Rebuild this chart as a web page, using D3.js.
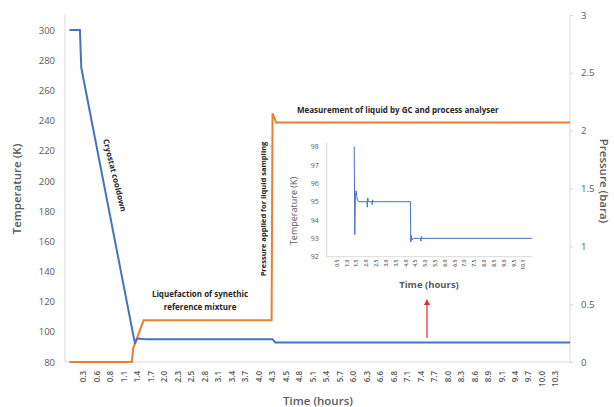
<!DOCTYPE html>
<html>
<head>
<meta charset="utf-8">
<script src="https://cdn.jsdelivr.net/npm/d3@7"></script>
<style>
  body { margin: 0; background: #fff; }
  text { font-family: "Open Sans", sans-serif; }
</style>
</head>
<body>
<div id="chart"></div>
<script>
// main series: [hours, value]
const tempSeries = [
  [0, 300], [0.22, 300], [0.25, 275], [1.387, 92], [1.41, 94.5], [1.45, 95.6],
  [1.55, 95.2], [1.7, 95], [4.3, 95], [4.36, 93], [10.6, 93]
];
const pressSeries = [
  [0, 0], [1.32, 0], [1.35, 0.12], [1.57, 0.36], [4.28, 0.36], [4.30, 2.15],
  [4.38, 2.07], [10.6, 2.07]
];
// inset series (temperature zoom)
const insetSeries = [
  [1.40, 98], [1.43, 93.2], [1.46, 95.3], [1.5, 95.6], [1.55, 95.15], [1.62, 95.0],
  [2.05, 95], [2.07, 94.7], [2.09, 95.2], [2.12, 95], [2.3, 95], [2.32, 94.85],
  [2.34, 95.1], [2.36, 95], [4.26, 95], [4.28, 92.8], [4.31, 93.15], [4.34, 92.9],
  [4.4, 93], [4.78, 93], [4.8, 92.85], [4.82, 93.1], [4.85, 93], [10.45, 93]
];

const tickLabels = ["0.3","0.6","0.8","1.1","1.4","1.7","2.0","2.3","2.5","2.8","3.1","3.4",
  "3.7","4.0","4.3","4.5","4.8","5.1","5.4","5.7","6.0","6.3","6.6","6.8","7.1","7.4","7.7",
  "8.0","8.3","8.6","8.9","9.1","9.4","9.7","10.0","10.3"];
const tempTicks = [80, 100, 120, 140, 160, 180, 200, 220, 240, 260, 280, 300];
const pressTicks = [0, 0.5, 1, 1.5, 2, 2.5, 3];
const insetTickLabels = ["0.5","1.0","1.5","2.0","2.5","3.0","3.5","4.0","4.5","5.0",
  "5.5","6.0","6.5","7.0","7.5","8.0","8.5","9.0","9.5","10.1"];
const insetTempTicks = [92, 93, 94, 95, 96, 97, 98];

const W = 614, H = 407;
const L = 65, R = 570, T = 15, B = 362;
const grey = "#595959", axisCol = "#d9d9d9";
const blue = "#4472c4", orange = "#ed7d31";

const svg = d3.select("#chart").append("svg")
  .attr("width", W).attr("height", H);

const x = d3.scaleLinear().domain([0, 10.6]).range([L + 4.5, R]);
const yT = d3.scaleLinear().domain([80, 310]).range([B, T]);
const yP = d3.scaleLinear().domain([0, 3]).range([B, T]);
const xLab = d3.scalePoint().domain(tickLabels).range([x(2 / 7), x(72 / 7)]);

// axis lines
svg.append("line").attr("x1", L).attr("x2", L).attr("y1", T).attr("y2", B)
  .attr("stroke", axisCol);
svg.append("line").attr("x1", R).attr("x2", R).attr("y1", T).attr("y2", B)
  .attr("stroke", axisCol);
svg.append("line").attr("x1", L).attr("x2", R).attr("y1", B).attr("y2", B)
  .attr("stroke", axisCol);

// left axis
const gl = svg.append("g").attr("transform", `translate(${L},0)`)
  .call(d3.axisLeft(yT).tickValues(tempTicks).tickSize(0).tickPadding(10));
gl.select(".domain").remove();
gl.selectAll("text").attr("fill", grey).style("font-size", "9.5px");

// right axis
const gr = svg.append("g").attr("transform", `translate(${R},0)`)
  .call(d3.axisRight(yP).tickValues(pressTicks).tickFormat(d3.format("")).tickSize(3).tickPadding(8));
gr.select(".domain").remove();
gr.selectAll("line").attr("stroke", axisCol);
gr.selectAll("text").attr("fill", grey).style("font-size", "9.5px");

// bottom axis
const gb = svg.append("g").attr("transform", `translate(0,${B})`)
  .call(d3.axisBottom(xLab).tickSize(0));
gb.select(".domain").remove();
gb.selectAll("text")
  .attr("fill", grey).style("font-size", "8px").style("font-weight", "600")
  .attr("transform", "rotate(-90)")
  .attr("text-anchor", "end")
  .attr("x", -9).attr("y", 0).attr("dy", "0.35em");

// axis titles
svg.append("text").attr("transform", "translate(21,189) rotate(-90)")
  .attr("text-anchor", "middle").attr("fill", grey)
  .style("font-size", "11.5px").style("font-weight", "600").text("Temperature (K)");
svg.append("text").attr("transform", "translate(600,181) rotate(90)")
  .attr("text-anchor", "middle").attr("fill", grey)
  .style("font-size", "11.5px").style("font-weight", "600").text("Pressure (bara)");
svg.append("text").attr("x", 318).attr("y", 405)
  .attr("text-anchor", "middle").attr("fill", grey)
  .style("font-size", "11.5px").style("font-weight", "600").text("Time (hours)");

// lines
const lineT = d3.line().x(d => x(d[0])).y(d => yT(d[1]));
const lineP = d3.line().x(d => x(d[0])).y(d => yP(d[1]));
svg.append("path").datum(pressSeries).attr("d", lineP)
  .attr("fill", "none").attr("stroke", orange).attr("stroke-width", 2);
svg.append("path").datum(tempSeries).attr("d", lineT)
  .attr("fill", "none").attr("stroke", blue).attr("stroke-width", 2);

// annotations
const ann = "#262626";
svg.append("text").attr("transform", "translate(112,176) rotate(76)")
  .attr("text-anchor", "middle").attr("fill", ann)
  .style("font-size", "8px").style("font-weight", "700").text("Cryostat cooldown");
svg.append("text").attr("x", 200).attr("y", 297)
  .attr("text-anchor", "middle").attr("fill", ann)
  .style("font-size", "8px").style("font-weight", "700").text("Liquefaction of synethic");
svg.append("text").attr("x", 200).attr("y", 310)
  .attr("text-anchor", "middle").attr("fill", ann)
  .style("font-size", "8px").style("font-weight", "700").text("reference mixture");
svg.append("text").attr("transform", "translate(263,209) rotate(-90)")
  .attr("text-anchor", "middle").attr("dy", "0.35em").attr("fill", ann)
  .style("font-size", "7.5px").style("font-weight", "700")
  .text("Pressure applied for liquid sampling");
svg.append("text").attr("x", 297).attr("y", 113)
  .attr("fill", ann)
  .style("font-size", "8px").style("font-weight", "700")
  .text("Measurement of liquid by GC and process analyser");

// inset chart
const iL = 326.7, iR = 532, iT = 146.7, iB = 256.7;
const ix = d3.scaleLinear().domain([0, 10.45]).range([iL, iR]);
const iy = d3.scaleLinear().domain([92, 98]).range([iB, iT]);
const ixLab = d3.scalePoint().domain(insetTickLabels).range([ix(0.5), ix(10.0)]);

svg.append("line").attr("x1", iL).attr("x2", iL).attr("y1", iT - 4).attr("y2", iB)
  .attr("stroke", axisCol);
svg.append("line").attr("x1", iL).attr("x2", iR).attr("y1", iB).attr("y2", iB)
  .attr("stroke", axisCol);

const il = svg.append("g").attr("transform", `translate(${iL},0)`)
  .call(d3.axisLeft(iy).tickValues(insetTempTicks).tickFormat(d3.format("d")).tickSize(0).tickPadding(8));
il.select(".domain").remove();
il.selectAll("text").attr("fill", grey).style("font-size", "7px");

const ib = svg.append("g").attr("transform", `translate(0,${iB})`)
  .call(d3.axisBottom(ixLab).tickSize(0));
ib.select(".domain").remove();
ib.selectAll("text")
  .attr("fill", grey).style("font-size", "5px").style("font-weight", "600")
  .attr("transform", "rotate(-90)")
  .attr("text-anchor", "end")
  .attr("x", -3).attr("y", 0).attr("dy", "0.35em");

svg.append("text").attr("transform", "translate(297,211) rotate(-90)")
  .attr("text-anchor", "middle").attr("fill", grey)
  .style("font-size", "9px").text("Temperature (K)");
svg.append("text").attr("x", 429).attr("y", 288)
  .attr("text-anchor", "middle").attr("fill", grey)
  .style("font-size", "9.5px").style("font-weight", "700").text("Time (hours)");

svg.append("path").datum(insetSeries)
  .attr("d", d3.line().x(d => ix(d[0])).y(d => iy(d[1])))
  .attr("fill", "none").attr("stroke", blue).attr("stroke-width", 1);

// red arrow pointing to inset
svg.append("defs").append("marker")
  .attr("id", "arrow").attr("viewBox", "0 0 10 10")
  .attr("refX", 5).attr("refY", 5)
  .attr("markerWidth", 5).attr("markerHeight", 5)
  .attr("orient", "auto")
  .append("path").attr("d", "M0,0 L10,5 L0,10 z").attr("fill", "#e8262a");
svg.append("line")
  .attr("x1", 427).attr("x2", 427).attr("y1", 338).attr("y2", 302)
  .attr("stroke", "#e8262a").attr("stroke-width", 1.2)
  .attr("marker-end", "url(#arrow)");
</script>
</body>
</html>
